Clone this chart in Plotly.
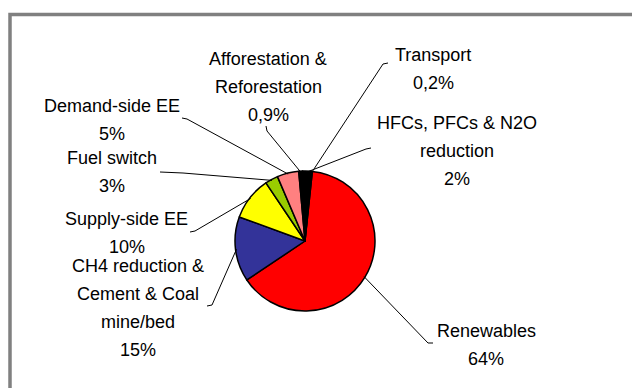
import math
import plotly.graph_objects as go

W, H = 632, 388

# Share of projects by type (clockwise from the top of the pie)
categories = [
    "Renewables",
    "CH4 reduction & Cement & Coal mine/bed",
    "Supply-side EE",
    "Fuel switch",
    "Demand-side EE",
    "Afforestation & Reforestation",
    "HFCs, PFCs & N2O reduction",
    "Transport",
]
shares = [64, 15, 10, 3, 5, 0.9, 2, 0.2]
share_labels = ["64%", "15%", "10%", "3%", "5%", "0,9%", "2%", "0,2%"]
label_lines = [
    ["Renewables"],
    ["CH4 reduction &", "Cement & Coal", "mine/bed"],
    ["Supply-side EE"],
    ["Fuel switch"],
    ["Demand-side EE"],
    ["Afforestation &", "Reforestation"],
    ["HFCs, PFCs & N2O", "reduction"],
    ["Transport"],
]
colors = ["#FF0000", "#333399", "#FFFF00", "#99CC00", "#FF8080",
          "#000000", "#000000", "#800000"]

# pie geometry in pixels
CX, CY, R = 305, 241, 70
ROT = 6  # first slice starts this many degrees clockwise from 12 o'clock

# label block centres (x, y of first line)
label_pos = [
    (486, 331), (138, 266), (127, 219), (112, 158),
    (112, 106), (268, 59), (457, 123), (433, 55),
]
# leader lines: short tick next to the label, then a bend point
line_tick = [
    (433, 343), (207, 306), (190, 232), (160, 172),
    (182, 118), (266, 126), (371, 148), (388, 63),
]
line_bend = [
    (428, 343), (212, 305), (195, 231), (183, 173),
    (187, 119), (267, 131), (366, 149), (383, 64),
]
LINE_H = 28


def px(x):
    return x / W


def py(y):
    return 1 - y / H


fig = go.Figure(go.Pie(
    labels=categories,
    values=shares,
    sort=False,
    direction="clockwise",
    rotation=ROT,
    marker=dict(colors=colors, line=dict(color="#000000", width=1.5)),
    textinfo="none",
    hoverinfo="label+percent",
    showlegend=False,
    domain=dict(x=[px(CX - R), px(CX + R)], y=[py(CY + R), py(CY - R)]),
))

# leader lines end on the pie rim at each slice's mid-angle
total = sum(shares)
acc = 0.0
shapes = []
for i, v in enumerate(shares):
    mid = ROT + (acc + v / 2) / total * 360
    acc += v
    ang = math.radians(mid)
    ex = CX + (R - 1) * math.sin(ang)
    ey = CY - (R - 1) * math.cos(ang)
    tx, ty = line_tick[i]
    bx, by = line_bend[i]
    path = (f"M {px(tx)},{py(ty)} L {px(bx)},{py(by)} "
            f"L {px(ex)},{py(ey)}")
    shapes.append(dict(type="path", xref="paper", yref="paper", path=path,
                       line=dict(color="#000000", width=1)))

# grey frame around the chart area
shapes.append(dict(type="rect", xref="paper", yref="paper",
                   x0=px(10), y0=py(14.5), x1=px(W + 20), y1=py(H + 20),
                   line=dict(color="#808080", width=3.5)))

annotations = []
for i, lines in enumerate(label_lines):
    x, y = label_pos[i]
    for j, t in enumerate(lines + [share_labels[i]]):
        annotations.append(dict(
            x=px(x), y=py(y + j * LINE_H), xref="paper", yref="paper",
            text=t, showarrow=False, xanchor="center", yanchor="middle",
            font=dict(family="Liberation Sans, Arial, sans-serif", size=18,
                      color="#000000"),
        ))

fig.update_layout(
    width=W, height=H,
    margin=dict(l=0, r=0, t=0, b=0),
    paper_bgcolor="#FFFFFF",
    plot_bgcolor="#FFFFFF",
    shapes=shapes,
    annotations=annotations,
)

fig.write_html("out.html")
